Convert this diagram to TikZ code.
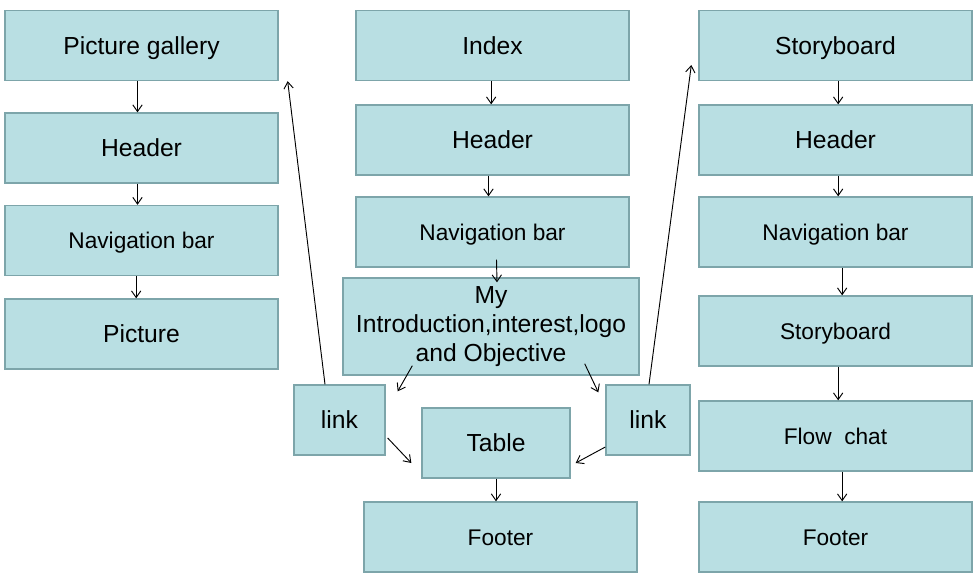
\documentclass[tikz,border=0pt]{standalone}
\usepackage{fontspec}
\setmainfont{Liberation Sans}
\usepackage{tikz}
\usetikzlibrary{arrows.meta,calc}
\definecolor{boxfill}{RGB}{185,223,227}
\definecolor{boxline}{RGB}{125,165,170}
\tikzset{
    page/.style={draw=boxline, line width=1pt, fill=boxfill, minimum width=204.75pt,
        minimum height=52.5pt, inner sep=0pt, align=center,
        text height=13pt, text depth=0pt,
        font=\fontsize{18.5}{21.75}\selectfont},
    smalltext/.style={font=\fontsize{17}{20}\selectfont, text height=12pt},
    conn/.style={-{Straight Barb[length=5pt,width=7pt]}, line width=0.7pt},
}

\begin{document}
\begin{tikzpicture}[x=0.75pt, y=-0.75pt]
    \useasboundingbox (0,0) rectangle (979,579);

    % left column
    \node[page] (pg)   at (141.5,45.5) {Picture gallery};
    \node[page] (lhd)  at (141.5,148)  {Header};
    \node[page, smalltext] (lnav) at (141.5,240.5) {Navigation bar};
    \node[page] (pic)  at (141.5,334)  {Picture};

    % middle column
    \node[page] (idx)  at (492.5,45.5) {Index};
    \node[page] (mhd)  at (492.5,140)  {Header};
    \node[page, smalltext] (mnav) at (492.5,232) {Navigation bar};
    \node[page, text height=, text depth=, minimum width=222pt, minimum height=72.75pt]
        (intro) at (491,326.5) {My\\Introduction,interest,logo\\and Objective};
    \node[page, minimum width=68.25pt] (llink) at (339.5,420) {link};
    \node[page, minimum width=111pt] (tbl) at (496,443) {Table};
    \node[page, minimum width=63pt] (rlink) at (648,420) {link};
    \node[page, smalltext] (mfoot) at (500.5,537) {Footer};

    % right column
    \node[page] (sb)   at (835.5,45.5) {Storyboard};
    \node[page] (rhd)  at (835.5,140)  {Header};
    \node[page, smalltext] (rnav) at (835.5,232) {Navigation bar};
    \node[page, smalltext] (sb2)  at (835.5,331) {Storyboard};
    \node[page, smalltext] (flow) at (835.5,436) {Flow\ \ chat};
    \node[page, smalltext] (rfoot) at (835.5,537) {Footer};

    % connectors
    \draw[conn] ([xshift=-3pt]pg.south)   -- ([xshift=-3pt]lhd.north);
    \draw[conn] ([xshift=-3pt]lhd.south)  -- ([xshift=-3pt]lnav.north);
    \draw[conn] ([xshift=-4pt]lnav.south) -- ([xshift=-4pt]pic.north);

    \draw[conn] ([xshift=-1pt]idx.south)  -- ([xshift=-1pt]mhd.north);
    \draw[conn] ([xshift=-3pt]mhd.south)  -- ([xshift=-3pt]mnav.north);
    \draw[conn] ($(mnav.south)+(4,-8)$)   -- ($(intro.north)+(6,5)$);
    \draw[conn] ($(intro.south west)+(70,-10)$) -- ($(llink.north east)+(12,7)$);
    \draw[conn] ($(intro.south east)+(-55,-12)$) -- ($(rlink.north west)+(-7,8)$);
    \draw[conn] ($(llink.east)+(2,18)$)   -- ($(tbl.west)+(-10,20)$);
    \draw[conn] ($(rlink.west)+(0,27)$)   -- ($(tbl.east)+(5,20)$);
    \draw[conn] (tbl.south) -- (tbl.south |- mfoot.north);
    \draw[conn] ($(llink.north)+(-14.5,0)$) -- ($(pg.south east)+(9,0)$);
    \draw[conn] ($(rlink.north)+(1,0)$)   -- ($(sb.west)+(-7,19.5)$);

    \draw[conn] ([xshift=2pt]sb.south)    -- ([xshift=2pt]rhd.north);
    \draw[conn] ([xshift=2pt]rhd.south)   -- ([xshift=2pt]rnav.north);
    \draw[conn] ([xshift=5pt]rnav.south)  -- ([xshift=5pt]sb2.north);
    \draw[conn] ([xshift=2pt]sb2.south)   -- ([xshift=2pt]flow.north);
    \draw[conn] ([xshift=5pt]flow.south)  -- ([xshift=5pt]rfoot.north);
\end{tikzpicture}
\end{document}
